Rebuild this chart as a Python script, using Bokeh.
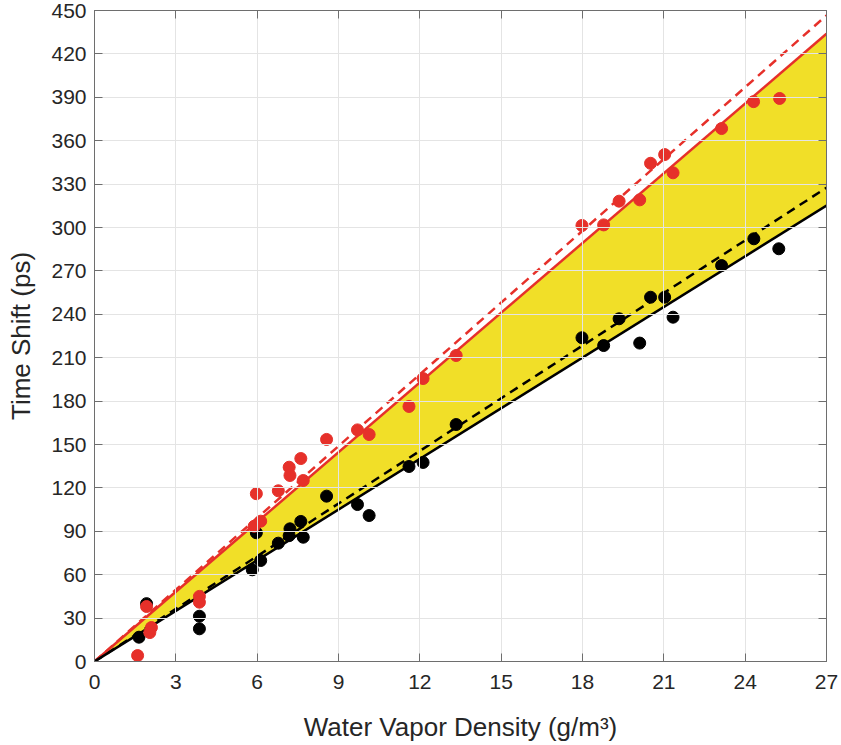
from bokeh.plotting import figure
from bokeh.models import LinearAxis, FixedTicker, Range1d
from bokeh.embed import file_html
from bokeh.resources import INLINE

# ---- data ----
red_x = [1.59, 1.92, 2.04, 2.10, 3.87, 3.87, 5.89, 5.97, 6.13, 6.78, 7.18, 7.21, 7.61, 7.70,
         8.56, 9.70, 10.13, 11.60, 12.12, 13.34, 17.98, 18.78, 19.35, 20.11, 20.51, 21.03,
         21.34, 23.13, 24.31, 25.27]
red_y = [4.1, 38.0, 20.0, 23.5, 45.0, 41.0, 93.5, 116.0, 97.0, 118.0, 134.3, 128.6, 140.3, 125.1,
         153.5, 160.1, 156.9, 176.3, 195.6, 211.5, 301.4, 301.8, 318.2, 319.1, 344.4, 350.4,
         337.8, 368.4, 387.0, 389.2]

black_x = [1.64, 1.92, 3.87, 3.87, 5.82, 5.97, 6.13, 6.78, 7.18, 7.21, 7.61, 7.70, 8.56,
           9.70, 10.13, 11.60, 12.12, 13.34, 17.98, 18.78, 19.35, 20.11, 20.51, 21.03,
           21.34, 23.13, 24.32, 25.24]
black_y = [16.8, 40.0, 31.3, 22.6, 63.4, 89.0, 69.8, 81.8, 87.0, 91.7, 96.8, 85.9, 114.3,
           108.5, 100.9, 134.8, 137.6, 163.8, 223.8, 218.4, 236.9, 220.1, 251.8, 251.8,
           238.0, 273.7, 292.2, 285.3]

# fitted line slopes (ps per g/m^3)
red_fit_slope = 16.07
red_dash_slope = 16.54
black_fit_slope = 11.67
black_dash_slope = 12.13

x_range_ends = [0, 27]
x_ticks = [0, 3, 6, 9, 12, 15, 18, 21, 24, 27]
y_ticks = [0, 30, 60, 90, 120, 150, 180, 210, 240, 270, 300, 330, 360, 390, 420, 450]

RED = "#e6302a"
YELLOW = "#f1df28"
FONT = "Liberation Sans"
TXT = "#262626"

p = figure(width=841, height=745, output_backend="svg", toolbar_location=None,
           x_range=Range1d(0, 27), y_range=Range1d(0, 450),
           min_border_left=94, min_border_right=15, min_border_top=10, min_border_bottom=84,
           x_axis_label="Water Vapor Density (g/m³)", y_axis_label="Time Shift (ps)")
p.background_fill_color = "white"
p.border_fill_color = "white"
p.outline_line_color = "#6e6e6e"
p.outline_line_width = 1

# fill between solid fits
xs = x_range_ends
p.varea(x=xs, y1=[black_fit_slope * v for v in xs], y2=[red_fit_slope * v for v in xs],
        fill_color=YELLOW, level="underlay")

# grid
p.xgrid.ticker = FixedTicker(ticks=x_ticks)
p.ygrid.ticker = FixedTicker(ticks=y_ticks)
for g in (p.xgrid, p.ygrid):
    g.grid_line_color = "#e4e4e4"
    g.grid_line_width = 1
    g.level = "glyph"

# lines
p.line(xs, [red_dash_slope * v for v in xs], line_color=RED, line_width=2.5, line_dash="9 6")
p.line(xs, [black_dash_slope * v for v in xs], line_color="black", line_width=2.5, line_dash="9 6")
p.line(xs, [red_fit_slope * v for v in xs], line_color=RED, line_width=2.5)
p.line(xs, [black_fit_slope * v for v in xs], line_color="black", line_width=2.5)

# points
p.scatter(black_x, black_y, size=12, fill_color="black", line_color="black")
p.scatter(red_x, red_y, size=12, fill_color=RED, line_color=RED)

# axes styling
for ax in (p.xaxis[0], p.yaxis[0]):
    ax.major_label_text_font = FONT
    ax.major_label_text_font_size = "21px"
    ax.major_label_text_color = TXT
    ax.axis_label_text_font = FONT
    ax.axis_label_text_font_size = "26px"
    ax.axis_label_text_font_style = "normal"
    ax.axis_label_text_color = TXT
    ax.axis_line_color = "#6e6e6e"
    ax.major_tick_line_color = "#6e6e6e"
    ax.major_tick_in = 8
    ax.major_tick_out = 0
    ax.minor_tick_line_color = None

p.xaxis[0].ticker = FixedTicker(ticks=x_ticks)
p.yaxis[0].ticker = FixedTicker(ticks=y_ticks)
p.xaxis[0].major_label_standoff = 13
p.yaxis[0].major_label_standoff = 8
p.xaxis[0].axis_label_standoff = 20
p.yaxis[0].axis_label_standoff = 12

# mirrored ticks on top / right (no labels)
top = LinearAxis(ticker=FixedTicker(ticks=x_ticks))
right = LinearAxis(ticker=FixedTicker(ticks=y_ticks))
for ax in (top, right):
    ax.major_label_text_color = None
    ax.major_label_standoff = 0
    ax.axis_line_color = "#6e6e6e"
    ax.major_tick_line_color = "#6e6e6e"
    ax.major_tick_in = 8
    ax.major_tick_out = 0
    ax.minor_tick_line_color = None
p.add_layout(top, "above")
p.add_layout(right, "right")

open("out.html", "w").write(file_html(p, INLINE))
